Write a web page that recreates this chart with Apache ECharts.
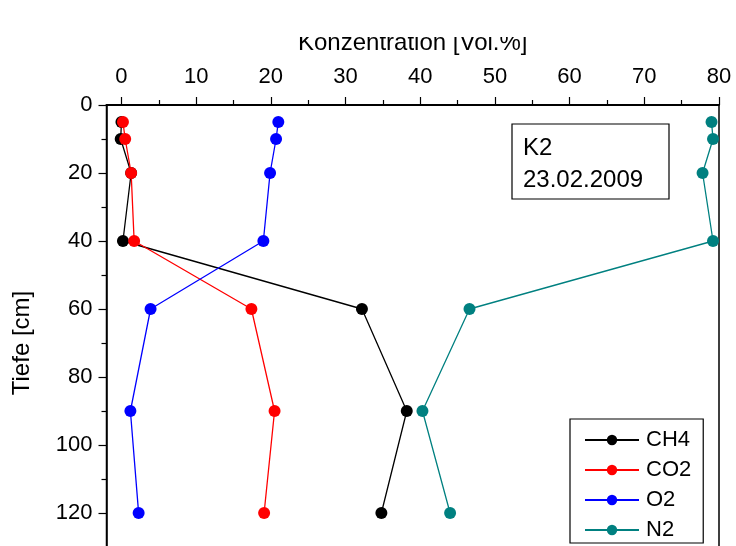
<!DOCTYPE html>
<html>
<head>
<meta charset="utf-8">
<script src="https://cdn.jsdelivr.net/npm/echarts@6/dist/echarts.min.js"></script>
<style>
  html, body { margin: 0; padding: 0; background: #fff; }
  #chart { width: 736px; height: 546px; }
</style>
</head>
<body>
<div id="chart"></div>
<script>
// depth [cm] and concentrations [Vol.%]
const depths = [5, 10, 20, 40, 60, 90, 120]
const ch4 = [0, -0.1, 1.3, 0.2, 32.2, 38.2, 34.8]
const co2 = [0.2, 0.5, 1.3, 1.7, 17.4, 20.5, 19.1]
const o2 = [21.0, 20.7, 19.9, 19.0, 3.9, 1.2, 2.3]
const n2 = [79.0, 79.2, 77.8, 79.2, 46.6, 40.3, 44.0]

const xTicks = [0, 10, 20, 30, 40, 50, 60, 70, 80]
const xMinorTicks = [5, 15, 25, 35, 45, 55, 65, 75]

const gases = [
  { name: 'CH4', values: ch4, color: '#000000' },
  { name: 'CO2', values: co2, color: '#ff0000' },
  { name: 'O2', values: o2, color: '#0000ff' },
  { name: 'N2', values: n2, color: '#008080' }
]

const font = 'Arial, "Liberation Sans", sans-serif'
const chart = echarts.init(document.getElementById('chart'))

chart.setOption({
  animation: false,
  textStyle: { fontFamily: font, color: '#000' },
  grid: {
    left: 106.5,
    top: 105,
    width: 612.5,
    height: 476,
    outerBoundsMode: 'none',
    containLabel: false,
    show: true,
    borderColor: '#000',
    borderWidth: 1.5
  },
  xAxis: [
    {
      type: 'value',
      position: 'top',
      min: -2,
      max: 80,
      name: 'Konzentration [Vol.%]',
      nameLocation: 'middle',
      nameGap: 50,
      nameTextStyle: { fontSize: 24, color: '#000', fontFamily: font },
      axisLine: { onZero: false, lineStyle: { color: '#000', width: 1.8 } },
      axisTick: { customValues: xTicks, length: 8, lineStyle: { color: '#000', width: 1.2 } },
      axisLabel: { customValues: xTicks, fontSize: 22, color: '#000', margin: 17, fontFamily: font },
      splitLine: { show: false }
    },
    {
      type: 'value',
      position: 'top',
      min: -2,
      max: 80,
      axisLine: { show: false, onZero: false },
      axisTick: { customValues: xMinorTicks, length: 5, lineStyle: { color: '#000', width: 1.2 } },
      axisLabel: { show: false },
      splitLine: { show: false }
    }
  ],
  yAxis: {
    type: 'value',
    inverse: true,
    min: 0,
    max: 140,
    interval: 20,
    name: 'Tiefe [cm]',
    nameLocation: 'middle',
    nameGap: 72,
    nameTextStyle: { fontSize: 24, color: '#000', fontFamily: font },
    axisLine: { show: true, onZero: false, lineStyle: { color: '#000', width: 1.5 } },
    axisTick: { show: true, length: 8, lineStyle: { color: '#000', width: 1.2 } },
    minorTick: { show: true, splitNumber: 2, length: 5, lineStyle: { color: '#000', width: 1.2 } },
    axisLabel: { fontSize: 22, color: '#000', margin: 14, showMaxLabel: false, fontFamily: font },
    splitLine: { show: false }
  },
  legend: {
    orient: 'vertical',
    left: 570,
    top: 419,
    padding: [10, 12, 2, 14],
    itemWidth: 54,
    itemHeight: 13,
    itemGap: 8,
    borderColor: '#000',
    borderWidth: 1.2,
    backgroundColor: '#fff',
    textStyle: { fontSize: 22, color: '#000', fontFamily: font, padding: [0, 0, 0, 2] },
    data: gases.map(g => g.name)
  },
  graphic: [
    {
      type: 'rect',
      shape: { x: 512, y: 124, width: 157, height: 75 },
      style: { fill: '#fff', stroke: '#000', lineWidth: 1.2 },
      z: 50
    },
    {
      type: 'text',
      left: 523,
      top: 132,
      style: { text: 'K2\n23.02.2009', font: '24px ' + font, fill: '#000', lineHeight: 32 },
      z: 51
    },
    {
      // the top of the axis title is cut off in the original
      type: 'rect',
      shape: { x: 0, y: 0, width: 736, height: 37 },
      style: { fill: '#fff' },
      z: 100
    }
  ],
  series: gases.map(g => ({
    name: g.name,
    type: 'line',
    data: depths.map((d, i) => [g.values[i], d]),
    symbol: 'circle',
    symbolSize: 12,
    color: g.color,
    lineStyle: { color: g.color, width: 1.3 },
    itemStyle: { color: g.color }
  }))
})
</script>
</body>
</html>
